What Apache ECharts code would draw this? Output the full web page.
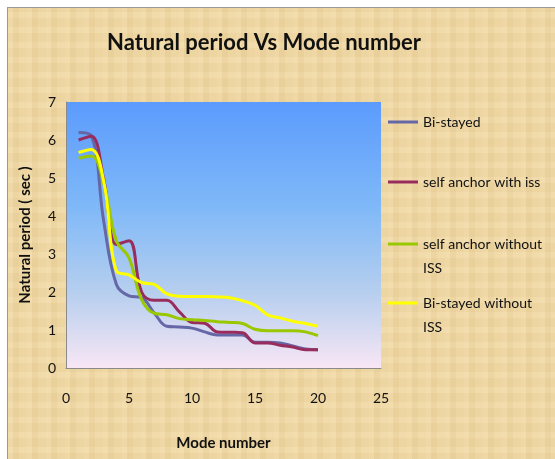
<!DOCTYPE html>
<html>
<head>
<meta charset="utf-8">
<script src="https://cdn.jsdelivr.net/npm/echarts@6/dist/echarts.min.js"></script>
<style>
    html, body { margin: 0; padding: 0; background: #fff; }
    #paper {
        position: absolute; left: 7px; top: 7px; width: 560px; height: 460px;
        border-left: 1px solid #9a9a9a; border-top: 1px solid #9a9a9a;
        background-color: #edd5a1;
        background-image:
            repeating-linear-gradient(90deg, rgba(255,240,200,0.18) 0 5px, rgba(210,175,110,0.08) 5px 11px, rgba(255,235,190,0.12) 11px 19px),
            repeating-linear-gradient(0deg, rgba(255,240,205,0.14) 0 6px, rgba(215,180,120,0.08) 6px 15px);
    }
    #main { position: absolute; left: 0; top: 0; width: 555px; height: 459px; }
</style>
</head>
<body>
<div id="paper"></div>
<div id="main"></div>
<script>
    var modes = [1, 2, 3, 4, 5, 6, 7, 8, 9, 10, 11, 12, 13, 14, 15, 16, 17, 18, 19, 20];
    var biStayed = [6.2, 6.12, 3.85, 2.2, 1.9, 1.85, 1.45, 1.1, 1.08, 1.05, 0.95, 0.87, 0.87, 0.87, 0.68, 0.68, 0.66, 0.58, 0.5, 0.48];
    var selfWithIss = [6.0, 6.1, 4.95, 3.25, 3.35, 2.0, 1.78, 1.78, 1.48, 1.2, 1.18, 0.95, 0.94, 0.93, 0.66, 0.66, 0.6, 0.55, 0.48, 0.48];
    var selfWithoutIss = [5.52, 5.58, 4.85, 3.35, 2.9, 1.8, 1.44, 1.4, 1.3, 1.27, 1.25, 1.22, 1.2, 1.17, 1.02, 0.98, 0.98, 0.98, 0.95, 0.85];
    var biWithoutIss = [5.67, 5.75, 4.9, 2.55, 2.45, 2.25, 2.2, 1.95, 1.89, 1.88, 1.88, 1.87, 1.85, 1.77, 1.65, 1.4, 1.32, 1.23, 1.17, 1.1];
    var seriesNames = ['Bi-stayed', 'self anchor with iss', 'self anchor without ISS', 'Bi-stayed without ISS'];
    // leading blank line keeps the icon level with the first text line
    var legendLabels = ['Bi-stayed', 'self anchor with iss', '\nself anchor without\nISS', '\nBi-stayed without\nISS'];
    var seriesColors = ['#6667a6', '#982c5c', '#99c800', '#ffff00'];
    var seriesData = [biStayed, selfWithIss, selfWithoutIss, biWithoutIss];

    var chart = echarts.init(document.getElementById('main'));
    var font = 'Lato, "Open Sans", sans-serif';

    function pairs(vals) {
        return vals.map(function (v, i) { return [modes[i], v]; });
    }

    // one legend per entry so each can sit where the original puts it
    var legendTops = [114, 174, 208, 267];
    var legends = seriesNames.map(function (name, i) {
        var wrapped = legendLabels[i].indexOf('\n') >= 0;
        return {
            data: [name],
            left: 388,
            top: legendTops[i],
            padding: 0,
            icon: 'rect',
            itemWidth: 30,
            itemHeight: 3,
            itemGap: 5,
            selectedMode: false,
            formatter: function () { return legendLabels[i]; },
            textStyle: {
                fontFamily: font, fontSize: 14, color: '#111',
                lineHeight: wrapped ? 24 : 16
            }
        };
    });

    var option = {
        backgroundColor: 'transparent',
        animation: false,
        title: {
            text: 'Natural period Vs Mode number',
            left: 102,
            top: 27,
            textStyle: { fontFamily: font, fontSize: 22, fontWeight: 'bold', color: '#111' }
        },
        legend: legends,
        grid: {
            left: 66, top: 102, right: 174, bottom: 91,
            show: true,
            borderWidth: 0,
            backgroundColor: new echarts.graphic.LinearGradient(0, 0, 0, 1, [
                { offset: 0, color: '#5b9bfd' },
                { offset: 0.4, color: '#80b9f8' },
                { offset: 0.72, color: '#b7cfee' },
                { offset: 1, color: '#f8e6f5' }
            ])
        },
        xAxis: {
            type: 'value',
            min: 0, max: 25, interval: 5,
            name: 'Mode number',
            nameLocation: 'middle',
            nameGap: 68,
            nameTextStyle: { fontFamily: font, fontSize: 15, fontWeight: 'bold', color: '#111' },
            axisLine: { show: true, lineStyle: { color: '#8a8a8a', width: 1 } },
            axisTick: { show: false },
            splitLine: { show: false },
            axisLabel: { margin: 23, fontFamily: font, fontSize: 14, color: '#111' }
        },
        yAxis: {
            type: 'value',
            min: 0, max: 7, interval: 1,
            name: 'Natural period ( sec )',
            nameLocation: 'middle',
            nameGap: 33,
            nameTextStyle: { fontFamily: font, fontSize: 15, fontWeight: 'bold', color: '#111' },
            axisLine: { show: true, lineStyle: { color: '#8a8a8a', width: 1 } },
            axisTick: { show: false },
            splitLine: { show: false },
            axisLabel: { margin: 10, fontFamily: font, fontSize: 14, color: '#111' }
        },
        series: seriesNames.map(function (name, i) {
            return {
                name: name,
                type: 'line',
                data: pairs(seriesData[i]),
                smooth: 0.4,
                symbol: 'none',
                itemStyle: { color: seriesColors[i] },
                lineStyle: { color: seriesColors[i], width: 3 }
            };
        })
    };
    chart.setOption(option);
</script>
</body>
</html>
